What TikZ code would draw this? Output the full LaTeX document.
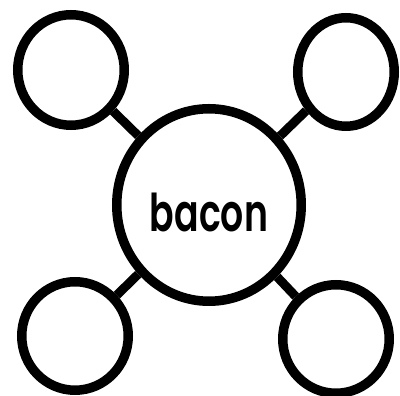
\documentclass[tikz,border=0pt]{standalone}
\usepackage{fontspec}
\setmainfont{Poppins}
\newfontfamily\labelfont{Poppins SemiBold}
\usetikzlibrary{shapes.geometric}
\begin{document}
\begin{tikzpicture}[x=1pt,y=1pt,
  ring/.style={draw=black,line width=9.5pt,ellipse,inner sep=0pt,fill=white},
  link/.style={draw=black,line width=9pt}]
\useasboundingbox (0,0) rectangle (400,396);
\fill[white] (0,0) rectangle (400,396);
\node[ring,minimum width=184.5pt,minimum height=192.5pt] (c) at (209,191) {};
\node[ring,minimum width=106.5pt,minimum height=110.5pt] (tl) at (71,326) {};
\node[ring,minimum width=96.5pt,minimum height=108.5pt] (tr) at (346,324) {};
\node[ring,minimum width=106.5pt,minimum height=108.5pt] (bl) at (75,60) {};
\node[ring,minimum width=106.5pt,minimum height=108.5pt] (br) at (336,57) {};
\draw[link] (tl) -- (c);
\draw[link] (tr) -- (c);
\draw[link] (bl) -- (c);
\draw[link] (br) -- (c);
\node[anchor=base,inner sep=0pt] (t) at (209,164) {\resizebox{118pt}{38.5pt}{\labelfont bacon}};
\end{tikzpicture}
\end{document}
